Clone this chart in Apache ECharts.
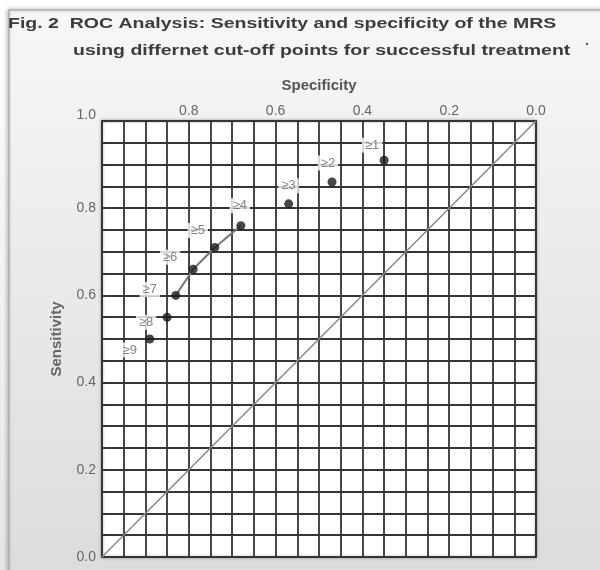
<!DOCTYPE html>
<html>
<head>
<meta charset="utf-8">
<script src="https://cdn.jsdelivr.net/npm/echarts@6/dist/echarts.min.js"></script>
<style>
  html, body { margin: 0; padding: 0; background: #ffffff; }
  #chart { width: 600px; height: 570px; }
</style>
</head>
<body>
<div id="chart"></div>
<script>
// Cut-off points of the MRS score and their ROC coordinates
const cutoffs     = ['≥1', '≥2', '≥3', '≥4', '≥5', '≥6', '≥7', '≥8', '≥9'];
const specificity = [0.35, 0.47, 0.57, 0.68, 0.74, 0.79, 0.83, 0.85, 0.89];
const sensitivity = [0.91, 0.86, 0.81, 0.76, 0.71, 0.66, 0.60, 0.55, 0.50];

// Cut-offs joined by the short curve segment
const joinedCutoffs = ['≥4', '≥5', '≥6', '≥7'];

// Chance line of the ROC plot (specificity, sensitivity)
const chanceLine = [[1, 0], [0, 1]];

// Axis tick labels shown every 0.2
const tickLabels = ['0.0', '0.2', '0.4', '0.6', '0.8', '1.0'];

// Where each cut-off label sits relative to its point (pixels)
const labelShift = [[-12, -15], [-4, -19], [0, -18], [-1, -20], [-17, -17],
                    [-23, -12], [-26, -6], [-21, 5], [-20, 11]];

const points = cutoffs.map((c, i) => ({
  name: c,
  value: [specificity[i], sensitivity[i]],
  label: { offset: labelShift[i] }
}));
const joined = cutoffs
  .map((c, i) => [c, specificity[i], sensitivity[i]])
  .filter(r => joinedCutoffs.includes(r[0]))
  .map(r => [r[1], r[2]]);

function tickText(v) {
  const s = v.toFixed(1);
  return tickLabels.includes(s) && Math.abs(v * 5 - Math.round(v * 5)) < 1e-6 ? s : '';
}

const FONT = '"Liberation Sans", Arial, sans-serif';
const chart = echarts.init(document.getElementById('chart'), null, { renderer: 'canvas' });

chart.setOption({
  backgroundColor: '#ffffff',
  animation: false,
  graphic: [
    {
      type: 'rect', z: -10, silent: true,
      shape: { x: 0, y: 0, width: 600, height: 570 },
      style: { fill: new echarts.graphic.LinearGradient(0, 0, 0, 1, [
        { offset: 0, color: '#ffffff' }, { offset: 1, color: '#e6e6e6' }]) }
    },
    {
      type: 'rect', z: -9, silent: true,
      shape: { x: 9, y: 10, width: 600, height: 570 },
      style: {
        fill: new echarts.graphic.LinearGradient(0, 0, 0, 1, [
          { offset: 0, color: '#f7f7f7' }, { offset: 1, color: '#dcdcdc' }]),
        stroke: '#b0b0b0', lineWidth: 1.5,
        shadowColor: 'rgba(0,0,0,0.25)', shadowBlur: 4, shadowOffsetX: -1
      }
    },
    {
      type: 'text', x: 8, y: 16, scaleX: 1.3, silent: true,
      style: { text: 'Fig. 2  ROC Analysis: Sensitivity and specificity of the MRS',
               font: 'bold 15px ' + FONT, fill: '#3c3c3c' }
    },
    {
      type: 'text', x: 73, y: 43, scaleX: 1.3, silent: true,
      style: { text: 'using differnet cut-off points for successful treatment',
               font: 'bold 15px ' + FONT, fill: '#3c3c3c' }
    },
    {
      type: 'text', x: 585, y: 38, silent: true,
      style: { text: '·', font: 'bold 14px ' + FONT, fill: '#555' }
    }
  ],
  grid: {
    left: 102, top: 121, width: 434, height: 436,
    show: true, backgroundColor: '#ffffff',
    borderColor: '#555555', borderWidth: 2,
    shadowColor: 'rgba(0,0,0,0.3)', shadowBlur: 3
  },
  xAxis: {
    type: 'value', position: 'top', inverse: true,
    min: 0, max: 1, interval: 0.05,
    name: 'Specificity', nameLocation: 'middle', nameGap: 28,
    nameTextStyle: { fontFamily: FONT, fontWeight: 'bold', fontSize: 15, color: '#555' },
    axisLine: { show: false }, axisTick: { show: false },
    axisLabel: {
      margin: 3, fontFamily: FONT, fontSize: 14, color: '#666',
      formatter: v => (Math.abs(v - 1) < 1e-6 ? '' : tickText(v))
    },
    splitLine: { show: true, lineStyle: { color: '#353535', width: 1.8 } }
  },
  yAxis: {
    type: 'value', min: 0, max: 1, interval: 0.05,
    name: 'Sensitivity', nameLocation: 'middle', nameGap: 38, nameRotate: 90,
    nameTextStyle: { fontFamily: FONT, fontWeight: 'bold', fontSize: 15, color: '#666' },
    axisLine: { show: false }, axisTick: { show: false },
    axisLabel: {
      margin: 6, fontFamily: FONT, fontSize: 14, color: '#666',
      formatter: v => {
        const t = tickText(v);
        return Math.abs(v - 1) < 1e-6 ? '{top|' + t + '}' : t;
      },
      rich: { top: { fontFamily: FONT, fontSize: 14, color: '#666', padding: [0, 0, 12, 0] } }
    },
    splitLine: { show: true, lineStyle: { color: '#353535', width: 1.8 } }
  },
  series: [
    {
      type: 'line', data: chanceLine, symbol: 'none', silent: true, z: 2,
      lineStyle: { color: '#8c8c8c', width: 1.6 }
    },
    {
      type: 'line', data: joined, symbol: 'none', silent: true, z: 3,
      lineStyle: { color: '#777777', width: 2 }
    },
    {
      type: 'scatter', data: points, symbol: 'circle', symbolSize: 9, z: 5,
      itemStyle: { color: '#1a1a1a' },
      label: {
        show: true, position: 'inside',
        formatter: p => p.name,
        fontFamily: FONT, fontSize: 13, color: '#666',
        backgroundColor: '#ffffff', padding: [1, 3]
      }
    }
  ]
});
</script>
</body>
</html>
